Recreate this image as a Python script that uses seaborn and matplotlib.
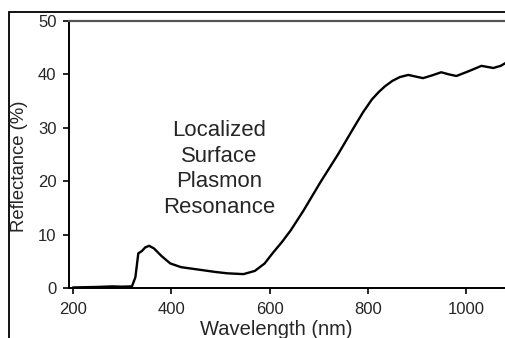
import matplotlib
matplotlib.use("Agg")
import matplotlib.pyplot as plt
import matplotlib.patches as patches
import seaborn as sns
import pandas as pd

# values
wavelength = [200, 250, 280, 300, 320, 327, 333, 340, 347, 355, 365, 380, 398, 420, 459,
              490, 514, 547, 570, 590, 606, 625, 643, 669, 704, 739, 771, 790, 808,
              822, 835, 850, 865, 882, 912, 930, 949, 965, 980, 1005, 1031, 1055, 1070, 1085]
reflectance = [0.1, 0.2, 0.3, 0.25, 0.3, 2.0, 6.5, 6.9, 7.6, 7.9, 7.4, 6.0, 4.6, 3.9, 3.4,
               3.0, 2.75, 2.6, 3.2, 4.6, 6.5, 8.6, 10.8, 14.5, 19.9, 25.0, 30.0, 32.9, 35.3,
               36.7, 37.8, 38.8, 39.5, 39.9, 39.3, 39.8, 40.4, 40.0, 39.7, 40.6, 41.6, 41.2, 41.6, 42.4]
x_ticks = [200, 400, 600, 800, 1000]
y_ticks = [0, 10, 20, 30, 40, 50]
label_lines = ["Localized", "Surface", "Plasmon", "Resonance"]

sns.set_style("white")
plt.rcParams["font.family"] = ["Liberation Sans", "DejaVu Sans"]

df = pd.DataFrame({"Wavelength": wavelength, "Reflectance": reflectance})

fig = plt.figure(figsize=(5.06, 3.38), dpi=100)
ax = fig.add_axes([69 / 506, 1 - 288 / 338, 1.0 - 69 / 506 + 0.005, (288 - 21) / 338])

sns.lineplot(data=df, x="Wavelength", y="Reflectance", color="black", linewidth=1.7, ax=ax)

ax.set_xlim(192, 1086)
ax.set_ylim(0, 50)
ax.set_xticks(x_ticks)
ax.set_yticks(y_ticks)
ax.tick_params(axis="both", direction="out", length=4, width=1.2, color="black",
               labelsize=12, left=True, bottom=True)
ax.tick_params(axis="y", pad=5)
ax.tick_params(axis="x", pad=6)
ax.set_xlabel("Wavelength (nm)", fontsize=14.5)
ax.set_ylabel("Reflectance (%)", fontsize=13.3)
ax.xaxis.set_label_coords(276 / 506, 1 - 320 / 338, transform=fig.transFigure)
ax.yaxis.set_label_coords(28 / 506, 1 - 166 / 338, transform=fig.transFigure)

for side in ["left", "bottom"]:
    ax.spines[side].set_color("black")
    ax.spines[side].set_linewidth(1.4)
ax.spines["top"].set_color("#555555")
ax.spines["top"].set_linewidth(1.6)
ax.spines["right"].set_visible(False)

ax.text(497, 22.3, "\n".join(label_lines), ha="center", va="center",
        fontsize=15.9, linespacing=1.3)

# outer frame of the original figure
frame = patches.Rectangle((9 / 506, -0.2), 1.2, 1 - 12 / 338 + 0.2,
                          transform=fig.transFigure, fill=False,
                          edgecolor="black", linewidth=1.3, clip_on=False)
fig.patches.append(frame)

fig.savefig("out.png", dpi=100)
